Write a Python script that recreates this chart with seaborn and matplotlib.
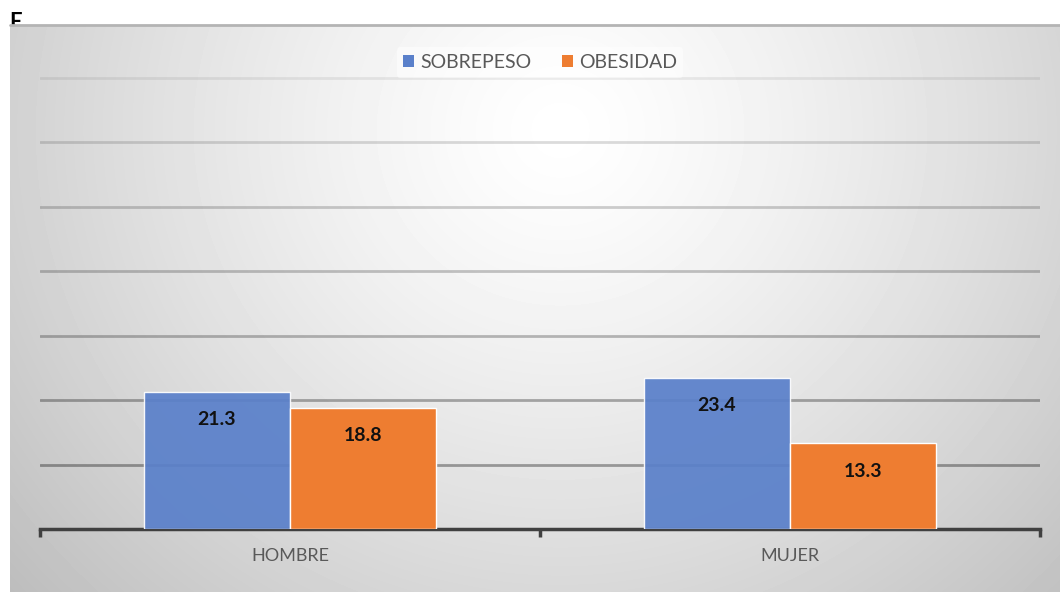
import numpy as np
import pandas as pd
import matplotlib
matplotlib.use("Agg")
import matplotlib.pyplot as plt
import seaborn as sns

# chart values
grupos = ["HOMBRE", "MUJER"]
series = ["SOBREPESO", "OBESIDAD"]
sobrepeso = [21.3, 23.4]
obesidad = [18.8, 13.3]
colores = ["#5a80ca", "#ee7d31"]

df = pd.DataFrame({
    "grupo": grupos * 2,
    "serie": [series[0]] * 2 + [series[1]] * 2,
    "valor": sobrepeso + obesidad,
})

sns.set_theme(style="white")
plt.rcParams["font.family"] = ["Lato", "DejaVu Sans"]

W, H = 1060, 592
fig = plt.figure(figsize=(W / 100, H / 100), dpi=100)
fig.patch.set_facecolor("white")

# the cut-off letter at the top left (partly hidden by the chart area)
fig.text(9 / W, 1 - 12 / H, "E", fontsize=16, fontweight="bold", color="black",
         va="top", ha="left", zorder=1)

# chart area with radial gradient
bg = fig.add_axes([10 / W, 0, 1 - 10 / W, 1 - 25 / H], zorder=5)
gx, gy = np.meshgrid(np.arange(10, W), np.arange(25, H))
d = np.hypot(gx - 560, (gy - 130) * 1.05) / 600
shade = np.clip(1 - 0.2 * d ** 1.3, 0, 1)
bg.imshow(shade, cmap="gray", vmin=0, vmax=1, aspect="auto", interpolation="bilinear")
bg.set_axis_off()
bg.plot([0, 1], [1, 1], transform=bg.transAxes, color="#b4b4b4", lw=2, clip_on=False)

ax = fig.add_axes([40 / W, 63 / H, 1000 / W, 503 / H], zorder=6)
ax.patch.set_alpha(0)

sns.barplot(data=df, x="grupo", y="valor", hue="serie", order=grupos, hue_order=series,
            palette=colores, saturation=1, width=0.584, gap=0, edgecolor="white",
            linewidth=1, ax=ax, zorder=3)
for p in ax.containers[0]:
    p.set_alpha(0.93)

ax.set_xlim(-0.5, 1.5)
ax.set_ylim(0, 78)
ax.set_yticks(np.arange(10, 71, 10))
ax.yaxis.grid(True, color="black", lw=2, zorder=0)
fade = [0.34, 0.31, 0.26, 0.22, 0.19, 0.14, 0.07]
for line, a in zip(ax.yaxis.get_gridlines(), fade):
    line.set_alpha(a)
ax.tick_params(axis="y", left=False, labelleft=False)

ax.set_xticks([0, 1])
ax.set_xticklabels(grupos)
ax.tick_params(axis="x", which="major", length=0, pad=14, labelsize=13, labelcolor="#595959")
ax.set_xticks([-0.5, 0.5, 1.5], minor=True)
ax.tick_params(axis="x", which="minor", bottom=True, length=6, width=2.5, color="#404040")
ax.set_xlabel("")
ax.set_ylabel("")
for s in ["top", "right", "left"]:
    ax.spines[s].set_visible(False)
ax.spines["bottom"].set_color("#404040")
ax.spines["bottom"].set_linewidth(2.5)

# value labels inside the top of each bar
for cont in ax.containers:
    for p in cont:
        ax.annotate(f"{p.get_height():.1f}", (p.get_x() + p.get_width() / 2, p.get_height()),
                    xytext=(0, -20), textcoords="offset points", ha="center", va="center",
                    fontsize=14, fontweight="bold", color="#111111", zorder=5)

leg = ax.legend(loc="center", bbox_to_anchor=(0.5, 0.928), ncol=2, frameon=True,
                fontsize=14, handlelength=0.55, handleheight=0.55, handletextpad=0.3,
                columnspacing=1.6, borderpad=0.35)
leg.get_frame().set_facecolor("white")
leg.get_frame().set_alpha(0.5)
leg.get_frame().set_edgecolor("none")
for t in leg.get_texts():
    t.set_color("#595959")
for h in leg.legend_handles:
    h.set_edgecolor("none")
    h.set_alpha(1)

fig.savefig("out.png", dpi=100)
